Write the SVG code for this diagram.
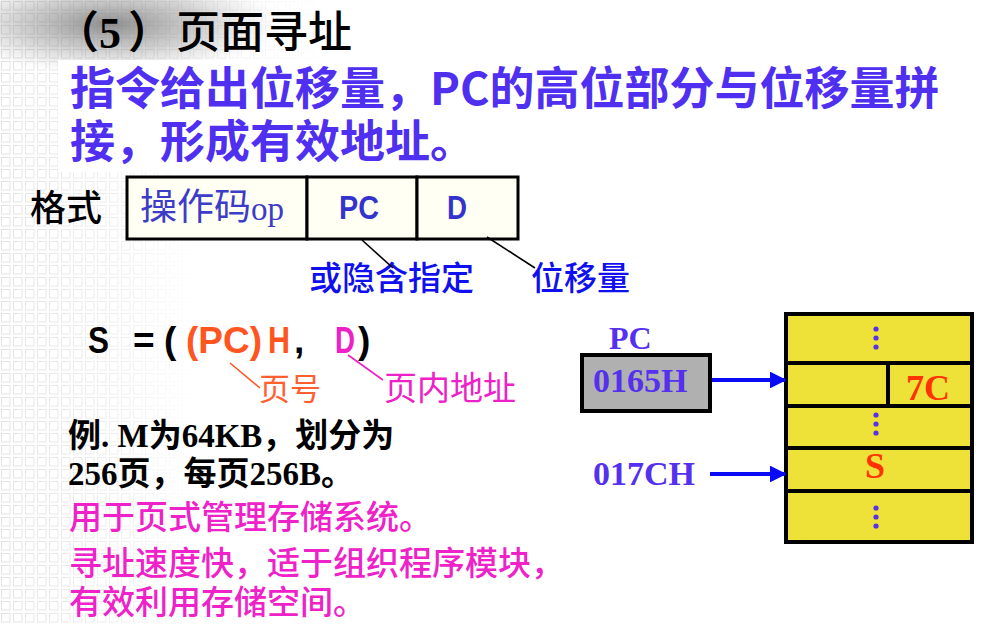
<svg xmlns="http://www.w3.org/2000/svg" width="981" height="624" viewBox="0 0 981 624">
  <defs>
    <style>
      .cjk { font-family: "Noto Sans CJK SC", "Noto Sans", sans-serif; }
      .mid { font-weight: 500; }
      .serifb { font-family: "Liberation Serif", "Noto Sans CJK SC", serif; font-weight: bold; }
      .narrow { font-family: "Liberation Sans", "Noto Sans CJK SC", sans-serif; font-weight: bold; }
      .violet { fill: #5030F0; }
      .cell { fill: #FFFFF4; stroke: #000; stroke-width: 3; }
      .mem { fill: #EEE238; stroke: #000; stroke-width: 4; }
      .dot { fill: #5530EE; }
      .lead { stroke-width: 1.6; fill: none; }
      .arrow { stroke: #0A0AF5; stroke-width: 4; fill: none; marker-end: url(#ah); }
    </style>
    <marker id="ah" viewBox="0 0 10 10" refX="9" refY="5" markerWidth="4.2" markerHeight="4.2" orient="auto" markerUnits="strokeWidth">
      <path d="M0,0 L10,5 L0,10 z" fill="#0A0AF5"/>
    </marker>
    <pattern id="grid" width="12" height="12" patternUnits="userSpaceOnUse">
      <rect x="1.5" y="1.5" width="8.5" height="8.5" fill="none" stroke="#E0E0E0" stroke-width="1"/>
    </pattern>
    <linearGradient id="fadeX" x1="0" y1="0" x2="1" y2="0">
      <stop offset="0" stop-color="#fff" stop-opacity="0.9"/>
      <stop offset="0.6" stop-color="#fff" stop-opacity="0.5"/>
      <stop offset="1" stop-color="#fff" stop-opacity="0"/>
    </linearGradient>
    <mask id="gridMask">
      <rect x="0" y="0" width="200" height="624" fill="url(#fadeX)"/>
      <rect x="0" y="0" width="340" height="60" fill="url(#fadeX)"/>
    </mask>
    <radialGradient id="shade" cx="0.5" cy="0.5" r="0.5">
      <stop offset="0" stop-color="#7A7A7A" stop-opacity="0.85"/>
      <stop offset="0.55" stop-color="#9A9A9A" stop-opacity="0.45"/>
      <stop offset="1" stop-color="#BBBBBB" stop-opacity="0"/>
    </radialGradient>
  </defs>

  <!-- page background -->
  <rect width="981" height="624" fill="#FFFFFF"/>
  <rect width="340" height="624" fill="url(#grid)" mask="url(#gridMask)"/>
  <ellipse cx="110" cy="24" rx="170" ry="50" fill="url(#shade)"/>
  <rect x="58" y="60" width="900" height="112" fill="#FFFFFF"/>

  <!-- heading -->
  <g id="title">
    <text x="55" y="48" class="serifb" font-size="44" fill="#000">（</text>
    <text x="99" y="48" class="serifb" font-size="44" fill="#000">5</text>
    <text x="128" y="48" class="serifb" font-size="44" fill="#000">）</text>
    <text x="176" y="48" class="cjk mid" font-size="44" fill="#000">页面寻址</text>
  </g>

  <g id="intro">
    <text x="70" y="105" class="cjk violet" font-size="45" font-weight="bold">指令给出位移量，PC的高位部分与位移量拼</text>
    <text x="70" y="158" class="cjk violet" font-size="45" font-weight="bold">接，形成有效地址。</text>
  </g>

  <!-- instruction format -->
  <g id="format">
    <text x="30" y="221" class="cjk mid" font-size="36" fill="#000">格式</text>
    <rect class="cell" x="127" y="177" width="180" height="62"/>
    <rect class="cell" x="307" y="177" width="110" height="62"/>
    <rect class="cell" x="417" y="177" width="101" height="62"/>
    <text x="140" y="220" class="cjk" font-size="37" fill="#3C3CC8">操作码<tspan font-family="Liberation Serif, serif" font-size="33">op</tspan></text>
    <text x="339" y="219" class="narrow" font-size="34" fill="#3434CC" textLength="40" lengthAdjust="spacingAndGlyphs">PC</text>
    <text x="447" y="219" class="narrow" font-size="34" fill="#3434CC" textLength="20" lengthAdjust="spacingAndGlyphs">D</text>
  </g>

  <g id="format-notes">
    <text x="309" y="290" class="cjk mid" font-size="33" fill="#1010EE">或隐含指定</text>
    <text x="531" y="290" class="cjk mid" font-size="33" fill="#1010EE">位移量</text>
  </g>

  <!-- effective address formula -->
  <g id="formula">
    <text y="353" class="narrow" font-size="37">
      <tspan x="88" fill="#000" textLength="21" lengthAdjust="spacingAndGlyphs">S</tspan>
      <tspan x="133" fill="#000">=</tspan>
      <tspan x="164" fill="#000">(</tspan>
      <tspan x="186" fill="#FF5520" textLength="76" lengthAdjust="spacingAndGlyphs">(PC)</tspan>
      <tspan x="268" fill="#FF5520" textLength="22" lengthAdjust="spacingAndGlyphs">H</tspan>
      <tspan x="294" fill="#000">,</tspan>
      <tspan x="335" fill="#EE20C8" textLength="20" lengthAdjust="spacingAndGlyphs">D</tspan>
      <tspan x="358" fill="#000">)</tspan>
    </text>
    <text x="259" y="400" class="cjk" font-size="31" fill="#FF6030">页号</text>
    <text x="384" y="400" class="cjk" font-size="33" fill="#EE20C8">页内地址</text>
  </g>

  <!-- example text -->
  <g id="example">
    <text x="68" y="447" font-size="33" fill="#000" font-weight="bold" font-family="Liberation Serif, Noto Sans CJK SC, serif">例. M为64KB，划分为</text>
    <text x="68" y="485" font-size="33" fill="#000" font-weight="bold" font-family="Liberation Serif, Noto Sans CJK SC, serif">256页，每页256B。</text>
    <text x="69" y="529" class="cjk mid" font-size="33" fill="#EE22C8">用于页式管理存储系统。</text>
    <text x="69" y="575" class="cjk mid" font-size="33" fill="#EE22C8">寻址速度快，适于组织程序模块，</text>
    <text x="69" y="614" class="cjk mid" font-size="33" fill="#EE22C8">有效利用存储空间。</text>
  </g>

  <!-- PC register and address -->
  <g id="pc-register">
    <text x="609" y="349" class="serifb" font-size="32" fill="#5530EE">PC</text>
    <rect x="582" y="355" width="128" height="56" fill="#B0B0B0" stroke="#000" stroke-width="4"/>
    <text x="593" y="392" class="serifb" font-size="34" fill="#5530EE">0165H</text>
  </g>

  <g id="address">
    <text x="593" y="485" class="serifb" font-size="34" fill="#5530EE">017CH</text>
  </g>

  <!-- main memory -->
  <g id="memory">
    <rect class="mem" x="786" y="314" width="186" height="49"/>
    <rect class="mem" x="786" y="363" width="186" height="43"/>
    <rect class="mem" x="786" y="406" width="186" height="42"/>
    <rect class="mem" x="786" y="448" width="186" height="43"/>
    <rect class="mem" x="786" y="491" width="186" height="51"/>
    <line x1="888" y1="363" x2="888" y2="406" stroke="#000" stroke-width="4"/>
    <circle class="dot" cx="876" cy="329" r="2.6"/>
    <circle class="dot" cx="876" cy="338" r="2.6"/>
    <circle class="dot" cx="876" cy="347" r="2.6"/>
    <circle class="dot" cx="876" cy="415" r="2.6"/>
    <circle class="dot" cx="876" cy="424" r="2.6"/>
    <circle class="dot" cx="876" cy="433" r="2.6"/>
    <circle class="dot" cx="876" cy="508" r="2.6"/>
    <circle class="dot" cx="876" cy="517" r="2.6"/>
    <circle class="dot" cx="876" cy="526" r="2.6"/>
    <text x="928" y="400" class="serifb" font-size="36" fill="#FF3300" text-anchor="middle">7C</text>
    <text x="875" y="478" class="serifb" font-size="36" fill="#FF3300" text-anchor="middle">S</text>
  </g>

  <!-- connectors -->
  <g id="connectors">
    <line class="lead" x1="362" y1="240" x2="393" y2="268" stroke="#000"/>
    <line class="lead" x1="487" y1="237" x2="535" y2="268" stroke="#000"/>
    <line class="lead" x1="230" y1="363" x2="260" y2="388" stroke="#FF5520"/>
    <line class="lead" x1="348" y1="355" x2="383" y2="380" stroke="#EE20C8"/>
    <line class="arrow" x1="712" y1="380" x2="785" y2="380"/>
    <line class="arrow" x1="710" y1="474" x2="785" y2="474"/>
  </g>
</svg>
